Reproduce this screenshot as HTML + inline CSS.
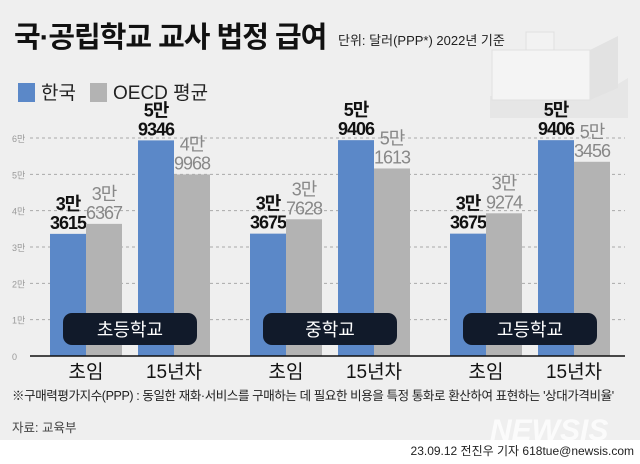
<!DOCTYPE html>
<html><head><meta charset="utf-8"><style>
body{margin:0;width:640px;height:464px;overflow:hidden;background:#fff;font-family:"Liberation Sans","Noto Sans CJK KR",sans-serif}
#bg{position:absolute;left:0;top:0;width:640px;height:440px;background:#efefef}
.t{position:absolute;white-space:nowrap}
</style></head><body>
<div id="bg"></div>
<svg style="position:absolute;left:478px;top:18px" width="160" height="100">
<polygon points="12,78 120,78 150,60 150,100 12,100" fill="#e6e6e6"/>
<rect x="14" y="32" width="98" height="50" fill="#f4f4f4" stroke="#e0e0e0"/>
<polygon points="112,32 140,18 140,70 112,82" fill="#e2e2e2"/>
<rect x="48" y="14" width="28" height="18" fill="#f2f2f2" stroke="#e0e0e0"/>
</svg>
<div class="t" style="left:14px;top:14px;font-size:29px;font-weight:bold;color:#111;letter-spacing:-1px">국·공립학교 교사 법정 급여</div>
<div class="t" style="left:338px;top:30px;font-size:13px;color:#222">단위: 달러(PPP*) 2022년 기준</div>
<div class="t" style="left:18px;top:78px;font-size:19px;color:#222"><span style="display:inline-block;width:17px;height:19px;background:#5b88c8;vertical-align:-3px;margin-right:6px"></span>한국</div>
<div class="t" style="left:90px;top:78px;font-size:19px;color:#222"><span style="display:inline-block;width:17px;height:19px;background:#b3b3b3;vertical-align:-3px;margin-right:6px"></span>OECD 평균</div>
<svg id="chart" width="640" height="464" style="position:absolute;left:0;top:0"></svg>
<div class="t" style="left:12px;top:385px;font-size:12.5px;color:#222;letter-spacing:-0.4px">※구매력평가지수(PPP) : 동일한 재화·서비스를 구매하는 데 필요한 비용을 특정 통화로 환산하여 표현하는 '상대가격비율'</div>
<div class="t" style="left:12px;top:417px;font-size:12.5px;color:#444">자료: 교육부</div>
<div class="t" style="left:490px;top:414px;font-size:30px;font-style:italic;font-weight:bold;color:#fff;opacity:.8">NEWSIS</div>
<div class="t" style="right:6px;top:442px;font-size:12px;color:#222">23.09.12 전진우 기자 618tue@newsis.com</div>
<script>
const groups=['초등학교','중학교','고등학교'];
const cats=['초임','15년차'];
const korea=[33615,59346,33675,59406,33675,59406];
const oecd=[36367,49968,37628,51613,39274,53456];
const ticks=[0,10000,20000,30000,40000,50000,60000];
const tickLabels=['0','1만','2만','3만','4만','5만','6만'];
const svg=document.getElementById('chart');const NS='http://www.w3.org/2000/svg';
const y0=356,pxPer=(356-138)/60000;
const y=v=>y0-v*pxPer;
const gx=[50,250,450];
const x=(g,c,s)=>gx[g]+c*88+s*36;
function mk(t,a){const e=document.createElementNS(NS,t);for(const k in a)e.setAttribute(k,a[k]);svg.appendChild(e);return e;}
ticks.forEach((t,i)=>{
 if(i>0){const l=mk('line',{x1:30,x2:625,y1:y(t),y2:y(t),stroke:'#aaa','stroke-dasharray':'3,3'});
 
 }
 const tx=mk('text',{x:12,y:y(t)+4,'font-size':9,fill:'#999'});tx.textContent=tickLabels[i];
 
 
});
function fmt(v){return [Math.floor(v/10000)+'만',String(v%10000)];}
for(let g=0;g<3;g++)for(let c=0;c<2;c++){
 const i=g*2+c;
 [[korea,'#5b88c8',0],[oecd,'#b3b3b3',1]].forEach(([arr,col,s])=>{
  const v=arr[i],bx=x(g,c,s);
  const r=mk('rect',{x:bx,y:y(v),width:36,height:y0-y(v),fill:col});
  
  
  const p=fmt(v);
  p.forEach((ln,k)=>{const t=mk('text',{x:bx+18,y:y(v)-24+k*19,'text-anchor':'middle','font-size':18,'font-weight':s?'normal':'bold',fill:s?'#888':'#111','letter-spacing':'-1'});t.textContent=ln;
  
  });
 });
 const cl=mk('text',{x:x(g,c,1),y:378,'text-anchor':'middle','font-size':19,fill:'#111'});cl.textContent=cats[c];
 
 
}
groups.forEach((n,g)=>{
 const r=mk('rect',{x:gx[g]+13,y:313,width:134,height:32,rx:9,fill:'#111a2a'});
 
 
 const t=mk('text',{x:gx[g]+80,y:336,'text-anchor':'middle','font-size':18,fill:'#fff'});t.textContent=n;
 
 
});
const ax=mk('line',{x1:30,x2:625,y1:y0,y2:y0,stroke:'#111','stroke-width':1.5});


</script>
</body></html>
